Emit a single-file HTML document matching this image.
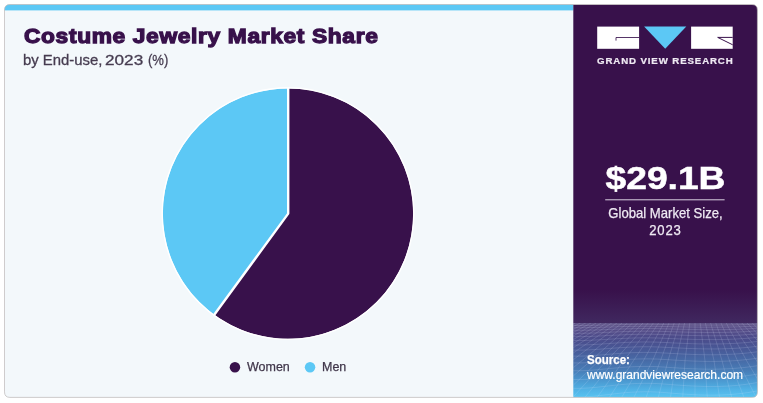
<!DOCTYPE html>
<html><head><meta charset="utf-8">
<style>
html,body{margin:0;padding:0;background:#fff;}
body{width:763px;height:403px;position:relative;overflow:hidden;font-family:"Liberation Sans",sans-serif;}
.t{position:absolute;white-space:nowrap;line-height:1;}
#title{left:23.6px;top:25.4px;font-size:21px;font-weight:bold;color:#38114b;-webkit-text-stroke:1.3px #38114b;letter-spacing:0.6px;transform-origin:0 0;transform:scaleX(1.083);}
.sub{top:52.2px;font-size:15.2px;color:#463c50;-webkit-text-stroke:0.3px #463c50;transform-origin:0 0;}
.lg{font-size:13px;color:#40364a;-webkit-text-stroke:0.25px #40364a;transform-origin:0 0;transform:scaleX(0.96);}
#big{left:573px;width:185px;text-align:center;top:162.7px;font-size:31px;font-weight:bold;color:#fff;-webkit-text-stroke:0.5px #fff;transform:scaleX(1.2);}
.gm{left:573px;width:185px;text-align:center;font-size:14.1px;color:#efeaf3;-webkit-text-stroke:0.25px #efeaf3;transform:scaleX(0.93);}
#src1{left:587px;top:353.5px;font-size:12.4px;font-weight:bold;color:#fff;-webkit-text-stroke:0.25px #fff;transform-origin:0 0;transform:scaleX(0.93);}
#src2{left:587px;top:367.6px;font-size:13px;color:#fff;-webkit-text-stroke:0.2px #fff;transform-origin:0 0;transform:scaleX(0.923);}
#gvr{left:597.3px;top:56.6px;font-size:8.8px;font-weight:bold;color:#efeaf3;-webkit-text-stroke:0.2px #efeaf3;letter-spacing:0.8px;transform-origin:0 0;transform:scaleX(1.1);}
</style></head><body>
<svg style="position:absolute;left:0;top:0" width="763" height="403" viewBox="0 0 763 403">
<defs>
<linearGradient id="pg" x1="0" y1="0" x2="0" y2="1"><stop offset="0.0013" stop-color="#38114b"/><stop offset="0.7266" stop-color="#38114b"/><stop offset="0.8104" stop-color="#40285f"/><stop offset="0.8117" stop-color="#55487f"/><stop offset="0.8285" stop-color="#524985"/><stop offset="0.8539" stop-color="#4a4d8c"/><stop offset="0.8794" stop-color="#485a98"/><stop offset="0.9048" stop-color="#476aa6"/><stop offset="0.9303" stop-color="#487cb6"/><stop offset="0.9557" stop-color="#4b97cf"/><stop offset="0.9812" stop-color="#51b3e6"/><stop offset="1.0000" stop-color="#58c4f1"/></linearGradient>
<linearGradient id="hz" x1="0" y1="0" x2="0" y2="1"><stop offset="0" stop-color="#fff" stop-opacity="0.06"/><stop offset="1" stop-color="#fff" stop-opacity="0"/></linearGradient>
<clipPath id="cc"><path d="M10.0 4.5 H751.9 Q757.4 4.5 757.4 10.0 V391.9 Q757.4 397.4 751.9 397.4 H10.0 Q4.5 397.4 4.5 391.9 V10.0 Q4.5 4.5 10.0 4.5 Z"/></clipPath>
<clipPath id="mc"><rect x="573.3" y="323" width="200" height="80"/></clipPath>
</defs>
<path d="M10.0 4.5 H751.9 Q757.4 4.5 757.4 10.0 V391.9 Q757.4 397.4 751.9 397.4 H10.0 Q4.5 397.4 4.5 391.9 V10.0 Q4.5 4.5 10.0 4.5 Z" fill="#f3f8fb"/>
<g clip-path="url(#cc)">
<rect x="0" y="0" width="573.3" height="10.4" fill="#5cc8f5"/>
<rect x="573.3" y="4.5" width="200" height="392.9" fill="url(#pg)"/>
<rect x="573.3" y="323" width="200" height="14" fill="url(#hz)"/>
<g clip-path="url(#mc)" fill="none" stroke="#dfe6ff" stroke-opacity="0.2" stroke-width="0.8"><path d="M573 325.5 C600 325.7 625 323.7 665 324.5 S730 325.3 758 324.1"/><path d="M573 327.7 C600 328.0 625 325.5 665 326.5 S730 327.5 758 326.0"/><path d="M573 330.3 C600 330.7 625 327.6 665 328.8 S730 330.1 758 328.2"/><path d="M573 333.3 C600 333.7 625 330.1 665 331.5 S730 333.0 758 330.8"/><path d="M573 336.6 C600 337.2 625 333.0 665 334.6 S730 336.3 758 333.8"/><path d="M573 340.5 C600 341.1 625 336.4 665 338.3 S730 340.2 758 337.3"/><path d="M573 345.0 C600 345.6 625 340.3 665 342.5 S730 344.6 758 341.4"/><path d="M573 350.1 C600 350.8 625 345.0 665 347.3 S730 349.7 758 346.2"/><path d="M573 356.1 C600 356.8 625 350.4 665 353.0 S730 355.5 758 351.7"/><path d="M573 362.9 C600 363.7 625 356.8 665 359.5 S730 362.3 758 358.1"/><path d="M573 370.7 C600 371.6 625 364.1 665 367.1 S730 370.1 758 365.6"/><path d="M573 379.5 C600 380.5 625 372.4 665 375.6 S730 378.9 758 374.0"/><path d="M573 388.3 C600 389.3 625 380.7 665 384.1 S730 387.6 758 382.4"/><path d="M573 397.0 C600 398.1 625 389.0 665 392.6 S730 396.3 758 390.8"/><path d="M487.0 323 Q348.2 360 203.4 398"/><path d="M492.2 323 Q355.5 360 215.7 398"/><path d="M497.4 323 Q361.6 360 227.9 398"/><path d="M502.6 323 Q368.6 360 240.2 398"/><path d="M507.8 323 Q377.7 360 252.5 398"/><path d="M513.0 323 Q388.7 360 264.8 398"/><path d="M518.2 323 Q399.8 360 277.1 398"/><path d="M523.4 323 Q409.4 360 289.4 398"/><path d="M528.6 323 Q416.7 360 301.7 398"/><path d="M533.8 323 Q422.8 360 314.0 398"/><path d="M539.0 323 Q429.8 360 326.3 398"/><path d="M544.2 323 Q438.9 360 338.6 398"/><path d="M549.4 323 Q449.9 360 350.9 398"/><path d="M554.6 323 Q461.1 360 363.1 398"/><path d="M559.8 323 Q470.6 360 375.4 398"/><path d="M565.0 323 Q477.8 360 387.7 398"/><path d="M570.2 323 Q484.0 360 400.0 398"/><path d="M575.4 323 Q491.0 360 412.3 398"/><path d="M580.6 323 Q500.2 360 424.6 398"/><path d="M585.8 323 Q511.2 360 436.9 398"/><path d="M591.0 323 Q522.3 360 449.2 398"/><path d="M596.2 323 Q531.8 360 461.5 398"/><path d="M601.4 323 Q539.0 360 473.8 398"/><path d="M606.6 323 Q545.1 360 486.1 398"/><path d="M611.8 323 Q552.2 360 498.3 398"/><path d="M617.0 323 Q561.4 360 510.6 398"/><path d="M622.2 323 Q572.5 360 522.9 398"/><path d="M627.4 323 Q583.6 360 535.2 398"/><path d="M632.6 323 Q593.0 360 547.5 398"/><path d="M637.8 323 Q600.2 360 559.8 398"/><path d="M643.0 323 Q606.3 360 572.1 398"/><path d="M648.2 323 Q613.4 360 584.4 398"/><path d="M653.4 323 Q622.7 360 596.7 398"/><path d="M658.6 323 Q633.7 360 609.0 398"/><path d="M663.8 323 Q644.8 360 621.3 398"/><path d="M669.0 323 Q654.2 360 633.5 398"/><path d="M674.2 323 Q661.3 360 645.8 398"/><path d="M679.4 323 Q667.5 360 658.1 398"/><path d="M684.6 323 Q674.6 360 670.4 398"/><path d="M689.8 323 Q683.9 360 682.7 398"/><path d="M695.0 323 Q695.0 360 695.0 398"/><path d="M700.2 323 Q706.1 360 707.3 398"/><path d="M705.4 323 Q715.4 360 719.6 398"/><path d="M710.6 323 Q722.5 360 731.9 398"/><path d="M715.8 323 Q728.7 360 744.2 398"/><path d="M721.0 323 Q735.8 360 756.5 398"/><path d="M726.2 323 Q745.2 360 768.7 398"/><path d="M731.4 323 Q756.3 360 781.0 398"/><path d="M736.6 323 Q767.3 360 793.3 398"/><path d="M741.8 323 Q776.6 360 805.6 398"/><path d="M747.0 323 Q783.7 360 817.9 398"/><path d="M752.2 323 Q789.8 360 830.2 398"/><path d="M757.4 323 Q797.0 360 842.5 398"/><path d="M762.6 323 Q806.4 360 854.8 398"/><path d="M767.8 323 Q817.5 360 867.1 398"/><path d="M773.0 323 Q828.6 360 879.4 398"/><path d="M778.2 323 Q837.8 360 891.7 398"/><path d="M783.4 323 Q844.9 360 903.9 398"/><path d="M788.6 323 Q851.0 360 916.2 398"/><path d="M793.8 323 Q858.2 360 928.5 398"/><path d="M799.0 323 Q867.7 360 940.8 398"/><path d="M804.2 323 Q878.8 360 953.1 398"/><path d="M809.4 323 Q889.8 360 965.4 398"/><path d="M814.6 323 Q899.0 360 977.7 398"/><path d="M819.8 323 Q906.0 360 990.0 398"/></g>
</g>
<path d="M10.0 4.5 H751.9 Q757.4 4.5 757.4 10.0 V391.9 Q757.4 397.4 751.9 397.4 H10.0 Q4.5 397.4 4.5 391.9 V10.0 Q4.5 4.5 10.0 4.5 Z" fill="none" stroke="#bdb9b9" stroke-opacity="0.8" stroke-width="0.9"/>
<path d="M288.0 213.6 L288.0 88.40 A125.2 125.2 0 1 1 214.23 314.76 Z" fill="#38114b"/>
<path d="M288.0 213.6 L214.23 314.76 A125.2 125.2 0 0 1 288.0 88.40 Z" fill="#5cc8f5"/>
<circle cx="288.0" cy="213.6" r="125.8" fill="none" stroke="#fff" stroke-width="1.4"/>
<path d="M288.2 87.20 V213.6 L213.53 315.76" fill="none" stroke="#fff" stroke-width="2.4" stroke-linejoin="round"/>
<rect x="597.2" y="26.6" width="41.9" height="22.2" fill="#fff"/>
<path d="M639.1 37.5 H616 V40.6" fill="none" stroke="#38114b" stroke-width="0.85"/>
<path d="M644.1 26.6 H686.3 L665.2 48.8 Z" fill="#5cc8f5"/>
<rect x="691.1" y="26.6" width="41.6" height="22.2" fill="#fff"/>
<path d="M732.7 37.4 H717.7 L732.7 44.8" fill="none" stroke="#38114b" stroke-width="1"/>
<circle cx="234.95" cy="367.3" r="5.25" fill="#38114b"/>
<circle cx="310.05" cy="367.3" r="5.25" fill="#5cc8f5"/>
<rect x="605.2" y="199.3" width="119.4" height="1" fill="#d9d0e0"/>
</svg>
<div class="t" id="title">Costume Jewelry Market Share</div>
<div class="t sub" style="left:23.4px;transform:scaleX(0.98)">by End-use, </div><div class="t sub" style="left:105.4px;transform:scaleX(1.13)">2023 </div><div class="t sub" style="left:148.4px;transform:scaleX(0.86)">(%)</div>
<div class="t lg" style="left:247.4px;top:360.3px">Women</div>
<div class="t lg" style="left:322.1px;top:360.3px">Men</div>
<div class="t" id="gvr">GRAND VIEW RESEARCH</div>
<div class="t" id="big">$29.1B</div>
<div class="t gm" style="top:206.1px">Global Market Size,</div>
<div class="t gm" style="top:223.1px;letter-spacing:0.9px">2023</div>
<div class="t" id="src1">Source:</div>
<div class="t" id="src2">www.grandviewresearch.com</div>
</body></html>
